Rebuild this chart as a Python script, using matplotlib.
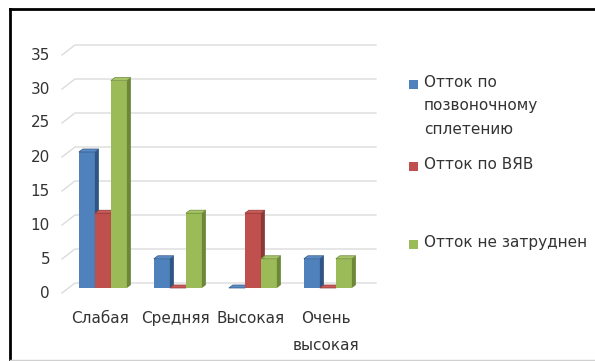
import numpy as np
import matplotlib
matplotlib.use("Agg")
import matplotlib.pyplot as plt
from matplotlib.patches import Polygon, Rectangle
from matplotlib.lines import Line2D

plt.rcParams['font.family'] = ['DejaVu Sans']

categories = ["Слабая", "Средняя", "Высокая", "Очень\nвысокая"]
series_names = ["Отток по\nпозвоночному\nсплетению", "Отток по ВЯВ", "Отток не затруднен"]
vertebral = [20, 4.3, 0, 4.3]
vjv = [11, 0, 11, 0]
free = [30.5, 11, 4.3, 4.3]
series = [vertebral, vjv, free]
yticks = [0, 5, 10, 15, 20, 25, 30, 35]

front = ["#4F81BD", "#C0504D", "#9BBB59"]
side = ["#2F5582", "#8C3836", "#6B8737"]
top = ["#5A8CC8", "#C95B58", "#A6C566"]
txt = "#333333"

W, H = 595, 361
fig = plt.figure(figsize=(W / 100, H / 100), dpi=100)

# axes occupies pixel box x 60..380, y 40..300 (from top)
px_per_x = 75.0
px_per_y = 6.8
x0_px, y0_px = 102.0, 293.0
ax = fig.add_axes([60 / W, (H - 300) / H, 320 / W, 260 / H])
ax.set_xlim((60 - x0_px) / px_per_x, (380 - x0_px) / px_per_x)
ax.set_ylim((y0_px - 300) / px_per_y, (y0_px - 40) / px_per_y)
ax.axis('off')

# 3d offsets (in data units)
back_dx, back_dy = 13 / px_per_x, 10 / px_per_y
mid_dx, mid_dy = 6 / px_per_x, 5 / px_per_y
dep_dx, dep_dy = 4 / px_per_x, 3 / px_per_y
bw = 16 / px_per_x
grid_left = (62 - x0_px) / px_per_x
grid_right = (376 - x0_px) / px_per_x

# gridlines on back wall with floor diagonal
for v in yticks:
    ax.plot([grid_left, grid_left + back_dx, grid_right], [v, v + back_dy, v + back_dy],
            color="#dcdcdc", lw=1.0, zorder=1)
    ax.text(grid_left - 12 / px_per_x, v, str(v), ha='right', va='center',
            fontsize=11, color=txt)

# bars
xs = np.arange(len(categories))
for k, vals in enumerate(series):
    for i, h in enumerate(vals):
        xl = xs[i] - 1.5 * bw + k * bw + mid_dx - 0.32 * bw
        yb = mid_dy
        xr = xl + bw
        yt = yb + h
        z = 3 + k
        ax.add_patch(Rectangle((xl, yb), bw, h, facecolor=front[k], edgecolor='none', zorder=z))
        ax.add_patch(Polygon([(xr, yb), (xr + dep_dx, yb + dep_dy), (xr + dep_dx, yt + dep_dy), (xr, yt)],
                             closed=True, facecolor=side[k], edgecolor='none', zorder=z))
        ax.add_patch(Polygon([(xl, yt), (xr, yt), (xr + dep_dx, yt + dep_dy), (xl + dep_dx, yt + dep_dy)],
                             closed=True, facecolor=top[k], edgecolor=side[k], lw=0.5, zorder=z))

for i, c in enumerate(categories):
    ax.text(xs[i] - 0.02, -2.6, c, ha='center', va='top', fontsize=11, color=txt,
            linespacing=2.05)

# legend
leg_y = [84, 166, 244]
for k, name in enumerate(series_names):
    y = leg_y[k]
    fig.patches.append(Rectangle((409 / W, 1 - (y + 5) / H), 9 / W, 9 / H, transform=fig.transFigure,
                                 facecolor=front[k], edgecolor='none'))
    fig.text(424 / W, 1 - (y - 9) / H, name, ha='left', va='top', fontsize=11,
             color=txt, linespacing=1.7)

# outer frame
fig.add_artist(Line2D([10 / W, 1], [1 - 9 / H, 1 - 9 / H], color='black', lw=2))
fig.add_artist(Line2D([10 / W, 10 / W], [1 - 9 / H, 1 / H], color='black', lw=2))
fig.add_artist(Line2D([10 / W, 1], [1.5 / H, 1.5 / H], color='#d0d0d0', lw=1))

fig.savefig("out.png", dpi=100)
